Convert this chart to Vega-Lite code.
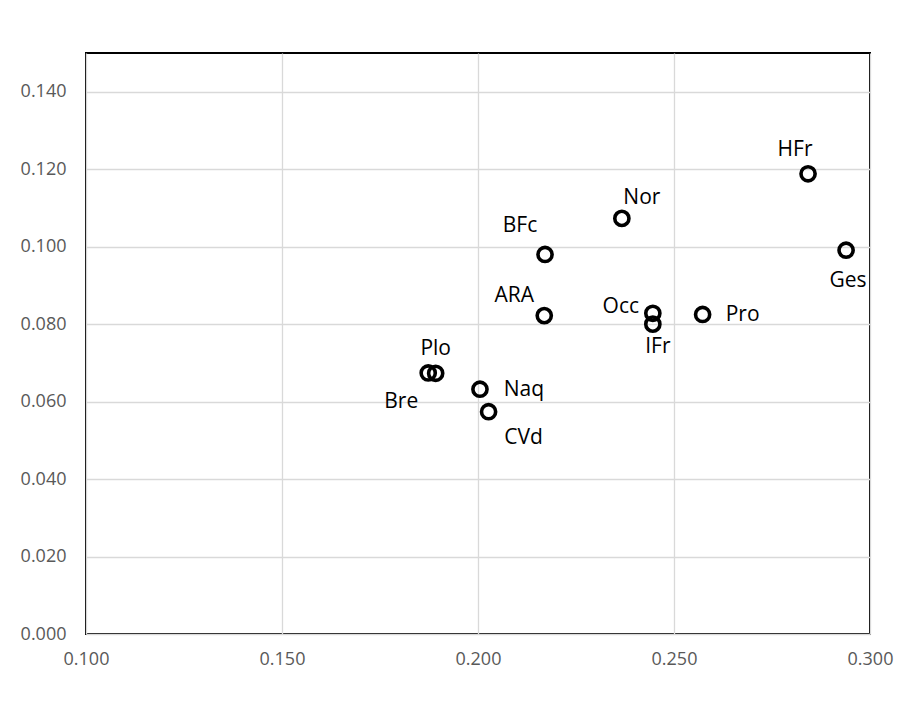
{
  "$schema": "https://vega.github.io/schema/vega-lite/v6.json",
  "width": 784,
  "height": 581,
  "autosize": "none",
  "padding": {"left": 86, "top": 53, "right": 49, "bottom": 79},
  "background": "white",
  "config": {
    "font": "Open Sans",
    "view": {"stroke": "black", "strokeWidth": 2},
    "axis": {
      "domain": false,
      "ticks": false,
      "grid": true,
      "gridColor": "#d9d9d9",
      "gridWidth": 1.3,
      "labelFont": "Open Sans",
      "labelFontSize": 18,
      "labelColor": "#595959",
      "labelFlush": false,
      "title": null
    }
  },
  "data": {
    "values": [
      {"region": "HFr", "x": 0.2842, "y": 0.1188},
      {"region": "Ges", "x": 0.2939, "y": 0.0991},
      {"region": "Nor", "x": 0.2367, "y": 0.1073},
      {"region": "BFc", "x": 0.2171, "y": 0.0980},
      {"region": "ARA", "x": 0.2169, "y": 0.0822},
      {"region": "Occ", "x": 0.2446, "y": 0.0828},
      {"region": "IFr", "x": 0.2446, "y": 0.0800},
      {"region": "Pro", "x": 0.2573, "y": 0.0825},
      {"region": "Plo", "x": 0.1892, "y": 0.0673},
      {"region": "Bre", "x": 0.1873, "y": 0.0674},
      {"region": "Naq", "x": 0.2005, "y": 0.0632},
      {"region": "CVd", "x": 0.2027, "y": 0.0574}
    ]
  },
  "encoding": {
    "x": {"field": "x", "type": "quantitative", "scale": {"domain": [0.1, 0.3], "nice": false, "zero": false},
      "axis": {"values": [0.1, 0.15, 0.2, 0.25, 0.3], "format": ".3f", "labelPadding": 16}},
    "y": {"field": "y", "type": "quantitative", "scale": {"domain": [0, 0.15], "nice": false},
      "axis": {"values": [0, 0.02, 0.04, 0.06, 0.08, 0.1, 0.12, 0.14], "format": ".3f", "labelPadding": 20}}
  },
  "layer": [
    {"mark": {"type": "point", "shape": "circle", "filled": false, "stroke": "black", "strokeWidth": 3.6, "size": 200, "opacity": 1}},
    {"transform": [{"filter": "datum.region == 'HFr'"}], "mark": {"type": "text", "fontSize": 21, "color": "black", "dx": -13, "dy": -24}, "encoding": {"text": {"field": "region"}}},
    {"transform": [{"filter": "datum.region == 'Ges'"}], "mark": {"type": "text", "fontSize": 21, "color": "black", "dx": 2, "dy": 31}, "encoding": {"text": {"field": "region"}}},
    {"transform": [{"filter": "datum.region == 'Nor'"}], "mark": {"type": "text", "fontSize": 21, "color": "black", "dx": 20, "dy": -20}, "encoding": {"text": {"field": "region"}}},
    {"transform": [{"filter": "datum.region == 'BFc'"}], "mark": {"type": "text", "fontSize": 21, "color": "black", "dx": -25, "dy": -28}, "encoding": {"text": {"field": "region"}}},
    {"transform": [{"filter": "datum.region == 'ARA'"}], "mark": {"type": "text", "fontSize": 21, "color": "black", "dx": -30, "dy": -20}, "encoding": {"text": {"field": "region"}}},
    {"transform": [{"filter": "datum.region == 'Occ'"}], "mark": {"type": "text", "fontSize": 21, "color": "black", "dx": -32, "dy": -6}, "encoding": {"text": {"field": "region"}}},
    {"transform": [{"filter": "datum.region == 'IFr'"}], "mark": {"type": "text", "fontSize": 21, "color": "black", "dx": 5, "dy": 23}, "encoding": {"text": {"field": "region"}}},
    {"transform": [{"filter": "datum.region == 'Pro'"}], "mark": {"type": "text", "fontSize": 21, "color": "black", "dx": 40, "dy": 1}, "encoding": {"text": {"field": "region"}}},
    {"transform": [{"filter": "datum.region == 'Plo'"}], "mark": {"type": "text", "fontSize": 21, "color": "black", "dx": 0, "dy": -24}, "encoding": {"text": {"field": "region"}}},
    {"transform": [{"filter": "datum.region == 'Bre'"}], "mark": {"type": "text", "fontSize": 21, "color": "black", "dx": -27, "dy": 29}, "encoding": {"text": {"field": "region"}}},
    {"transform": [{"filter": "datum.region == 'Naq'"}], "mark": {"type": "text", "fontSize": 21, "color": "black", "dx": 44, "dy": 1}, "encoding": {"text": {"field": "region"}}},
    {"transform": [{"filter": "datum.region == 'CVd'"}], "mark": {"type": "text", "fontSize": 21, "color": "black", "dx": 35, "dy": 26}, "encoding": {"text": {"field": "region"}}}
  ]
}
